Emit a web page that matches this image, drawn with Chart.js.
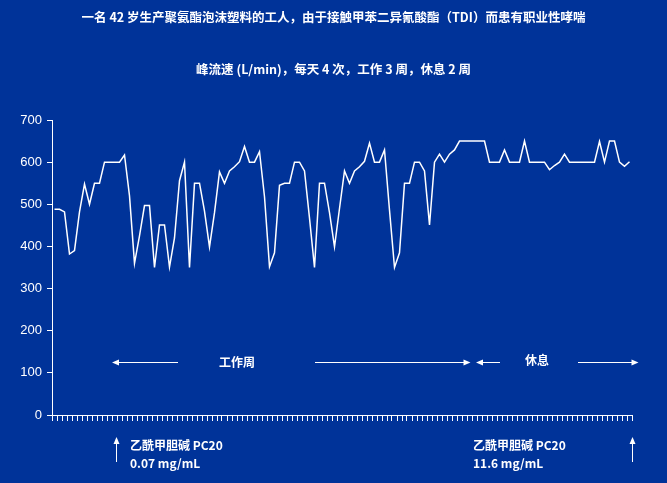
<!DOCTYPE html>
<html>
<head>
<meta charset="utf-8">
<script src="https://cdn.jsdelivr.net/npm/chart.js@4"></script>
<style>
  html, body { margin: 0; padding: 0; background: #003399; }
  #wrap { width: 667px; height: 483px; }
</style>
</head>
<body>
<div id="wrap"><canvas id="pefChart"></canvas></div>
<script>
// ---- data ----
const titleText = "一名 42 岁生产聚氨酯泡沫塑料的工人，由于接触甲苯二异氰酸酯（TDI）而患有职业性哮喘";
const subtitleText = "峰流速 (L/min)，每天 4 次，工作 3 周，休息 2 周";

// peak flow readings (L/min), 4 per day
const peakFlow = [
  488, 488, 482, 382, 390, 482, 548, 500, 550, 550,
  600, 600, 600, 600, 617, 520, 360, 425, 497, 497,
  350, 451, 451, 351, 420, 556, 600, 350, 550, 550,
  484, 399, 480, 577, 550, 579, 589, 601, 637, 600,
  600, 625, 518, 352, 385, 545, 550, 550, 600, 600,
  579, 467, 350, 550, 550, 480, 399, 490, 579, 550,
  579, 589, 602, 645, 600, 600, 629, 486, 350, 385,
  550, 550, 600, 600, 579, 451, 600, 619, 600, 619,
  629, 650, 650, 650, 650, 650, 650, 600, 600, 600,
  629, 600, 600, 600, 650, 600, 600, 600, 600, 582,
  592, 600, 619, 600, 600, 600, 600, 600, 600, 649,
  600, 650, 650, 600, 590, 601
];
const yTickValues = [0, 100, 200, 300, 400, 500, 600, 700];

const workLabel = "工作周";
const restLabel = "休息";
const pc20Label = "乙酰甲胆碱 PC20";
const pc20Doses = ["0.07 mg/mL", "11.6 mg/mL"];

// ---- annotation placement (reading index / L/min) ----
const workSpan = { from: 11.5, to: 83.2, textAt: 36.5, gapFrom: 24.7, gapTo: 52.1 };
const restSpan = { from: 84.3, to: 116.8, textAt: 96.5, gapFrom: 89.1, gapTo: 104.7 };
const spanLevel = 125;
const challengeAt = [12.3, 115.5];
const challengeTextAt = [15.1, 83.7];

const white = "#ffffff";
const cjkFont = "'Noto Sans CJK SC', 'Noto Sans', sans-serif";

function drawArrow(ctx, x1, y1, x2, y2) {
  const ang = Math.atan2(y2 - y1, x2 - x1);
  const len = 7, half = 3;
  ctx.beginPath();
  ctx.moveTo(x1, y1);
  ctx.lineTo(x2 - Math.cos(ang) * len * 0.8, y2 - Math.sin(ang) * len * 0.8);
  ctx.stroke();
  ctx.beginPath();
  ctx.moveTo(x2, y2);
  ctx.lineTo(x2 - Math.cos(ang) * len - Math.sin(ang) * half, y2 - Math.sin(ang) * len + Math.cos(ang) * half);
  ctx.lineTo(x2 - Math.cos(ang) * len + Math.sin(ang) * half, y2 - Math.sin(ang) * len - Math.cos(ang) * half);
  ctx.closePath();
  ctx.fill();
}

const notesPlugin = {
  id: "pefNotes",
  afterDraw(chart) {
    const { ctx, chartArea } = chart;
    const x = chart.scales.x, y = chart.scales.y;
    ctx.save();
    ctx.strokeStyle = white;
    ctx.fillStyle = white;
    ctx.lineWidth = 1;
    ctx.font = "bold 12px " + cjkFont;
    ctx.textBaseline = "middle";

    const lvl = Math.round(y.getPixelForValue(spanLevel)) + 0.5;
    [workSpan, restSpan].forEach((s, i) => {
      drawArrow(ctx, x.getPixelForValue(s.gapFrom), lvl, x.getPixelForValue(s.from), lvl);
      drawArrow(ctx, x.getPixelForValue(s.gapTo), lvl, x.getPixelForValue(s.to), lvl);
      ctx.textAlign = "center";
      ctx.fillText(i === 0 ? workLabel : restLabel, x.getPixelForValue(s.textAt), lvl - (i === 0 ? 0 : 2));
    });

    const b = chartArea.bottom;
    challengeAt.forEach((v) => {
      const px = Math.round(x.getPixelForValue(v)) + 0.5;
      drawArrow(ctx, px, b + 47, px, b + 22);
    });
    ctx.textAlign = "left";
    challengeTextAt.forEach((v, i) => {
      const px = x.getPixelForValue(v);
      ctx.fillText(pc20Label, px, b + 30);
      ctx.fillText(pc20Doses[i], px, b + 48);
    });
    ctx.restore();
  }
};

Chart.defaults.font.family = cjkFont;
Chart.defaults.color = white;

new Chart(document.getElementById("pefChart"), {
  type: "line",
  data: {
    datasets: [{
      data: peakFlow.map((v, i) => ({ x: i, y: v })),
      borderColor: white,
      borderWidth: 1.5,
      pointRadius: 0,
      tension: 0,
      fill: false
    }]
  },
  options: {
    responsive: true,
    maintainAspectRatio: false,
    animation: false,
    layout: { padding: 0 },
    scales: {
      x: {
        type: "linear",
        min: -0.5,
        max: peakFlow.length - 0.5,
        afterFit: (s) => { s.height = 68; },
        border: { color: white, width: 1 },
        grid: { drawOnChartArea: false, color: white, tickLength: 6 },
        ticks: { display: false, stepSize: 1, autoSkip: false, maxTicksLimit: 500 }
      },
      y: {
        min: 0,
        max: 700,
        afterFit: (s) => { s.width = 52; },
        afterBuildTicks: (s) => { s.ticks = yTickValues.map((v) => ({ value: v })); },
        border: { color: white, width: 1 },
        grid: { drawOnChartArea: false, color: white, tickLength: 5 },
        ticks: {
          color: white,
          padding: 5,
          font: { family: "'Liberation Sans', Arial, sans-serif", size: 13 }
        }
      },
      // empty strip on the right so the titles stay centred on the page
      yRight: {
        position: "right",
        min: 0,
        max: 700,
        afterFit: (s) => { s.width = 35; },
        border: { display: false },
        grid: { display: false },
        ticks: { display: false }
      }
    },
    plugins: {
      legend: { display: false },
      tooltip: { enabled: false },
      title: {
        display: true,
        text: titleText,
        color: white,
        font: { size: 12.5, weight: "bold" },
        padding: { top: 10, bottom: 37 }
      },
      subtitle: {
        display: true,
        text: subtitleText,
        color: white,
        font: { size: 12.5, weight: "bold" },
        padding: { top: 0, bottom: 43 }
      }
    }
  },
  plugins: [notesPlugin]
});
</script>
</body>
</html>
